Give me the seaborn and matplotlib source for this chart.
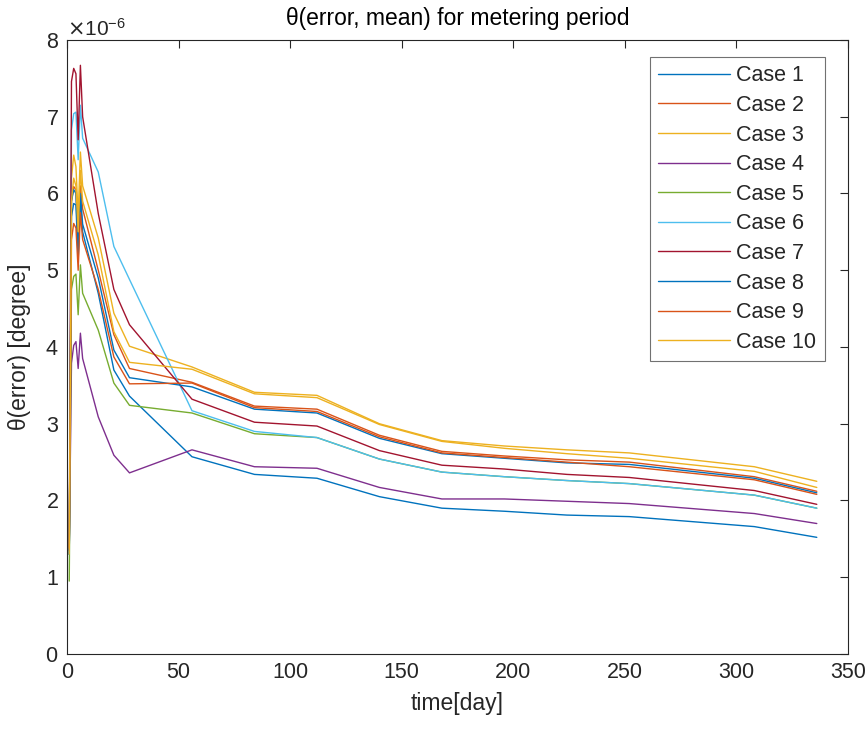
import numpy as np
import pandas as pd
import matplotlib
matplotlib.use("Agg")
import matplotlib.pyplot as plt
from matplotlib.ticker import ScalarFormatter
import seaborn as sns

# Sampling days of the metering period
days = [1, 2, 3, 4, 5, 6, 7, 14, 21, 28, 56, 84, 112, 140, 168, 196, 224, 252, 308, 336]

# Mean angular error per case, in units of 1e-6 degree
case_1 = [1.30, 5.70, 5.87, 5.85, 5.13, 5.90, 5.50, 4.70, 3.70, 3.36, 2.57, 2.34, 2.29, 2.05, 1.90, 1.86, 1.81, 1.79, 1.66, 1.52]
case_2 = [1.38, 5.90, 6.09, 6.05, 5.30, 6.10, 5.80, 5.00, 4.16, 3.72, 3.54, 3.23, 3.19, 2.85, 2.64, 2.58, 2.53, 2.50, 2.31, 2.12]
case_3 = [1.30, 6.20, 6.50, 6.35, 5.70, 6.54, 6.10, 5.42, 4.44, 4.01, 3.74, 3.41, 3.37, 3.00, 2.78, 2.71, 2.66, 2.62, 2.44, 2.25]
case_4 = [1.35, 3.79, 4.02, 4.07, 3.72, 4.18, 3.85, 3.09, 2.59, 2.36, 2.66, 2.44, 2.42, 2.17, 2.02, 2.02, 1.99, 1.96, 1.83, 1.70]
case_5 = [0.95, 4.75, 4.92, 4.95, 4.42, 5.07, 4.70, 4.22, 3.53, 3.24, 3.14, 2.87, 2.82, 2.54, 2.37, 2.31, 2.26, 2.22, 2.07, 1.90]
case_6 = [1.30, 6.83, 7.04, 7.06, 6.44, 7.15, 6.72, 6.28, 5.31, 4.88, 3.17, 2.90, 2.82, 2.54, 2.37, 2.31, 2.26, 2.22, 2.07, 1.90]
case_7 = [1.35, 7.46, 7.63, 7.56, 6.70, 7.67, 7.00, 5.74, 4.75, 4.29, 3.32, 3.02, 2.97, 2.65, 2.46, 2.41, 2.34, 2.30, 2.13, 1.95]
case_8 = [1.30, 5.90, 6.05, 6.00, 5.20, 6.00, 5.60, 4.90, 3.96, 3.60, 3.48, 3.19, 3.14, 2.81, 2.61, 2.55, 2.49, 2.47, 2.29, 2.10]
case_9 = [1.38, 5.40, 5.61, 5.55, 5.00, 5.75, 5.40, 4.75, 3.87, 3.52, 3.53, 3.21, 3.16, 2.83, 2.62, 2.56, 2.50, 2.44, 2.27, 2.08]
case_10 = [1.30, 5.90, 6.20, 6.10, 5.50, 6.30, 5.90, 5.20, 4.20, 3.80, 3.71, 3.39, 3.34, 2.99, 2.77, 2.68, 2.61, 2.55, 2.38, 2.17]

case_names = [f"Case {i}" for i in range(1, 11)]
case_values = [case_1, case_2, case_3, case_4, case_5, case_6, case_7, case_8, case_9, case_10]

x_ticks = [0, 50, 100, 150, 200, 250, 300, 350]
y_ticks = [0, 1, 2, 3, 4, 5, 6, 7, 8]

# Long-form table for seaborn
frames = []
for name, vals in zip(case_names, case_values):
    frames.append(pd.DataFrame({"day": days,
                                "theta": np.array(vals) * 1e-6,
                                "case": name}))
df = pd.concat(frames, ignore_index=True)

# MATLAB-like default colour order (7 colours, cycling)
base = [(0.0, 0.447, 0.741), (0.850, 0.325, 0.098), (0.929, 0.694, 0.125),
        (0.494, 0.184, 0.556), (0.466, 0.674, 0.188), (0.301, 0.745, 0.933),
        (0.635, 0.078, 0.184)]
palette = {name: base[i % len(base)] for i, name in enumerate(case_names)}

sns.set_theme(style="white")
plt.rcParams["font.family"] = ["Liberation Sans", "DejaVu Sans"]
axis_col = (0.15, 0.15, 0.15)

fig = plt.figure(figsize=(8.68, 7.35), dpi=100)
ax = fig.add_axes([0.0772, 0.1102, 0.8998, 0.8354])

sns.lineplot(data=df, x="day", y="theta", hue="case", hue_order=case_names,
             palette=palette, estimator=None, sort=False, linewidth=1.0, ax=ax)

ax.set_xlim(0, 350)
ax.set_ylim(0, 8e-6)
ax.set_xticks(x_ticks)
ax.set_yticks(np.array(y_ticks) * 1e-6)

fmt = ScalarFormatter(useMathText=True)
fmt.set_powerlimits((0, 0))
ax.yaxis.set_major_formatter(fmt)
ax.yaxis.get_offset_text().set_fontsize(15)
ax.yaxis.get_offset_text().set_color(axis_col)

for s in ax.spines.values():
    s.set_color(axis_col)
    s.set_linewidth(0.8)
ax.tick_params(axis="both", which="major", direction="in", length=6, width=0.8,
               colors=axis_col, labelsize=15.5, top=True, right=True,
               labelcolor=axis_col, pad=6)

ax.set_xlabel("time[day]", fontsize=16.5, color=axis_col, labelpad=6)
ax.set_ylabel("θ(error) [degree]", fontsize=16.5, color=axis_col, labelpad=10)
ax.set_title("θ(error, mean) for metering period", fontsize=16.5, color="black", pad=11)

leg = ax.legend(loc="upper right", bbox_to_anchor=(0.970, 0.972), fontsize=15.5,
                frameon=True, fancybox=False, handlelength=3.35, handletextpad=0.3,
                labelspacing=0.40, borderpad=0.38, borderaxespad=0.0)
leg.get_frame().set_edgecolor((0.3, 0.3, 0.3))
leg.get_frame().set_linewidth(0.8)
for line in leg.get_lines():
    line.set_linewidth(1.0)

fig.savefig("out.png", dpi=100, facecolor="white")
